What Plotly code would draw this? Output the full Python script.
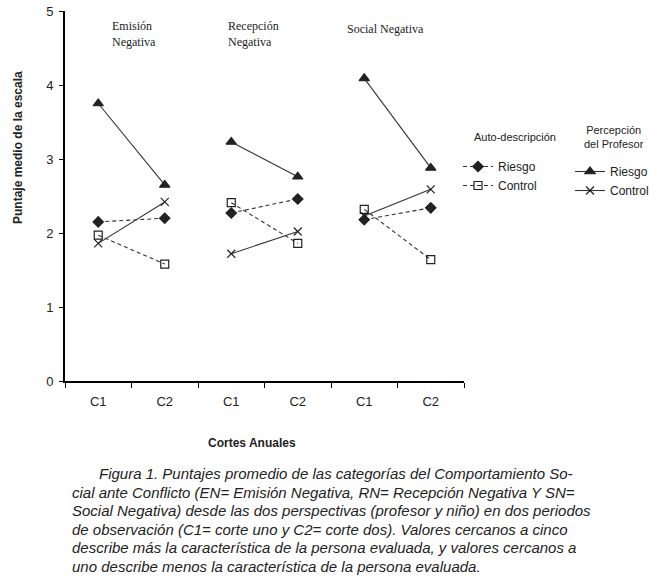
import plotly.graph_objects as go

groups = ["Emisión<br>Negativa", "Recepción<br>Negativa", "Social Negativa"]
cortes = ["C1", "C2"]

auto_riesgo = [[2.15, 2.20], [2.27, 2.46], [2.18, 2.34]]
auto_control = [[1.97, 1.58], [2.41, 1.86], [2.32, 1.64]]
prof_riesgo = [[3.75, 2.65], [3.23, 2.76], [4.09, 2.88]]
prof_control = [[1.86, 2.42], [1.72, 2.02], [2.23, 2.59]]

yticks = [0, 1, 2, 3, 4, 5]

caption_lines = [
    "Figura 1. Puntajes promedio de las categorías del Comportamiento So-",
    "cial ante Conflicto (EN= Emisión Negativa, RN= Recepción Negativa Y SN=",
    "Social Negativa) desde las dos perspectivas (profesor y niño) en dos periodos",
    "de observación (C1= corte uno y C2= corte dos). Valores cercanos a cinco",
    "describe más la característica de la persona evaluada, y valores cercanos a",
    "uno describe menos la característica de la persona evaluada.",
]

series = [
    ("Riesgo", auto_riesgo, "4px,3px", "diamond", 8, "legend"),
    ("Control", auto_control, "4px,3px", "square-open", 8, "legend"),
    ("Riesgo", prof_riesgo, "solid", "triangle-up", 9, "legend2"),
    ("Control", prof_control, "solid", "x-thin-open", 8, "legend2"),
]

fig = go.Figure()
for name, vals, dash, sym, size, leg in series:
    for gi, pair in enumerate(vals):
        xs = [gi * 2 + ci + 0.5 for ci in range(len(cortes))]
        fig.add_trace(go.Scatter(
            x=xs, y=pair, mode="lines+markers", name=name,
            legend=leg, legendgroup=leg + name, showlegend=(gi == 0),
            line=dict(color="#333", width=1.1, dash=dash),
            marker=dict(symbol=sym, size=size, color="#222",
                        line=dict(color="#222", width=1.2)),
        ))

tickvals = [i + 0.5 for i in range(len(groups) * len(cortes))]
ticktext = cortes * len(groups)

fig.update_layout(
    width=657, height=581,
    margin=dict(l=65, r=193, t=11, b=200, autoexpand=False),
    paper_bgcolor="white", plot_bgcolor="white",
    font=dict(family="Liberation Sans, Arial, sans-serif", color="#222"),
    xaxis=dict(range=[0, 6], tickvals=tickvals, ticktext=ticktext, ticks="",
               showgrid=False, zeroline=False, showline=True, linecolor="black",
               linewidth=2, tickfont=dict(size=13), ticklabelstandoff=7,
               minor=dict(ticks="outside", dtick=1, tick0=0, ticklen=5,
                          tickcolor="black", showgrid=False)),
    yaxis=dict(range=[0, 5], tickvals=yticks, ticks="outside", ticklen=4,
               tickcolor="black", showgrid=False, zeroline=False, showline=True,
               linecolor="black", linewidth=2, tickfont=dict(size=13),
               ticklabelstandoff=3),
    legend=dict(xref="container", yref="container", x=458 / 657, y=1 - 152 / 581,
                xanchor="left", yanchor="top",
                font=dict(size=12), bgcolor="rgba(0,0,0,0)", tracegroupgap=0,
                itemwidth=30),
    legend2=dict(xref="container", yref="container", x=570 / 657, y=1 - 157 / 581,
                 xanchor="left", yanchor="top",
                 font=dict(size=12), bgcolor="rgba(0,0,0,0)", tracegroupgap=0,
                 itemwidth=30),
    showlegend=True,
)


def px_x(px):
    return (px - 65) / 399


def px_y(py):
    return (381 - py) / 370


title_pos = [(110, 17), (226, 17), (345, 20)]
for g, (px, py) in zip(groups, title_pos):
    fig.add_annotation(text=g, xref="paper", yref="paper", x=px_x(px), y=px_y(py),
                       xanchor="left", yanchor="top", showarrow=False, align="left",
                       font=dict(family="Liberation Serif, Times New Roman, serif",
                                 size=12, color="#222"))

fig.add_annotation(text="Auto-descripción", xref="paper", yref="paper",
                   x=px_x(515), y=px_y(137), showarrow=False,
                   xanchor="center", yanchor="middle", font=dict(size=11, color="#222"))
fig.add_annotation(text="Percepción<br>del Profesor", xref="paper", yref="paper",
                   x=px_x(614), y=px_y(136.5), showarrow=False, align="center",
                   xanchor="center", yanchor="middle", font=dict(size=11, color="#222"))

fig.add_annotation(text="<b>Puntaje medio de la escala</b>", xref="paper", yref="paper",
                   x=px_x(18), y=px_y(148), textangle=-90, showarrow=False,
                   xanchor="center", yanchor="middle", font=dict(size=12, color="#222"))
fig.add_annotation(text="<b>Cortes Anuales</b>", xref="paper", yref="paper",
                   x=px_x(252), y=px_y(443), showarrow=False,
                   xanchor="center", yanchor="middle", font=dict(size=12, color="#222"))

for i, line in enumerate(caption_lines):
    left = 97 if i == 0 else 70
    fig.add_annotation(text="<i>" + line + "</i>", xref="paper", yref="paper",
                       x=px_x(left), y=px_y(474 + 18.4 * i), xanchor="left",
                       yanchor="middle", showarrow=False, align="left",
                       font=dict(size=15, color="#222"))

fig.write_html("out.html", config={"displayModeBar": False},
               post_script="document.body.style.margin='0';")
